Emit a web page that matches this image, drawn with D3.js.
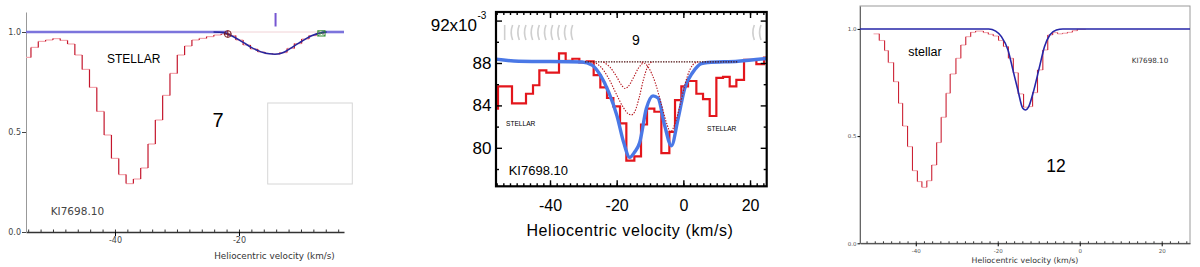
<!DOCTYPE html>
<html lang="en">
<head>
<meta charset="UTF-8">
<title>KI 7698 absorption profiles</title>
<script src="https://cdnjs.cloudflare.com/ajax/libs/d3/7.8.5/d3.min.js"></script>
<style>
  body { margin: 0; background: #fff; }
  svg { display: block; }
  text { font-family: "DejaVu Sans", sans-serif; }
  .helv text, text.helv { font-family: "Liberation Sans", Arial, sans-serif; }
</style>
</head>
<body>
<svg width="1200" height="267"></svg>
<script>
// ---- panel 1 (component 7): observed spectrum, bins start at these velocities ----
const p1Edges = [-54.35, -53.55, -52.37, -51.19, -50.01, -48.83, -47.65, -46.47, -45.29, -44.11,
  -42.93, -41.75, -40.57, -39.39, -38.21, -37.03, -35.85, -34.67, -33.49, -32.31, -31.13, -29.95,
  -28.77, -27.59, -26.41, -25.23, -24.05, -22.87, -21.69, -20.51, -19.33, -18.15, -16.97, -15.79,
  -14.61, -13.43, -12.25, -11.07, -9.89, -8.71, -7.53, -6.35, -5.17, -3.99];
const p1Flux = [0.873, 0.923, 0.953, 0.960, 0.967, 0.958, 0.940, 0.885, 0.813, 0.723, 0.603, 0.485,
  0.368, 0.287, 0.242, 0.265, 0.320, 0.440, 0.560, 0.683, 0.793, 0.885, 0.930, 0.960, 0.968, 0.977,
  0.985, 0.990, 0.982, 0.960, 0.935, 0.915, 0.900, 0.892, 0.889, 0.897, 0.918, 0.942, 0.965, 0.982,
  0.993, 0.998, 1.0, 1.0];
const p1End = -3.06;
// fitted interstellar profile
const p1FitV = [-24.1, -22.5, -21.8, -20.8, -19.8, -18.9, -17.95, -17, -16.1, -15.1, -14.2, -13.5,
  -12.85, -12, -11, -10, -9.1, -8.2, -7.2, -6.5, -5.85];
const p1FitF = [1.0, 0.997, 0.99, 0.975, 0.957, 0.94, 0.922, 0.908, 0.897, 0.891, 0.889, 0.891,
  0.897, 0.912, 0.932, 0.951, 0.968, 0.982, 0.993, 0.997, 1.0];
const p1Limits = [-21.8, -6.7];   // fit window markers
const p1Cloud = [-14.1];          // component position

// ---- panel 2 (component 9) ----
const p2Edges = [-56.2, -55.6, -51.4, -47.2, -45.1, -43.2, -41.1, -37.3, -35.3, -33.3, -31.2, -29.0,
  -26.9, -24.9, -22.9, -21.0, -19.0, -17.1, -14.7, -12.7, -10.9, -8.7, -6.6, -4.2, -2.5, -0.6, 1.4,
  3.9, 5.9, 7.9, 9.9, 11.9, 13.9, 15.9, 18.2, 21.9, 24.2];
const p2Flux = [83.7, 85.8, 84.2, 85.1, 85.9, 87.3, 87.1, 88.9, 88.2, 88.4, 88.05, 88.15, 86.85, 85.7,
  84.7, 83.9, 82.3, 78.8, 79.2, 82.2, 83.7, 83.4, 79.5, 81.5, 84.5, 85.8, 86.3, 85.1, 84.6, 83.0, 86.6,
  86.7, 85.8, 86.4, 88.3, 87.9, 88.5];
const p2End = 25;
const p2FitV = [-56.2, -49.4, -30.4, -27.4, -24.9, -22.4, -19.9, -17.9, -16.1, -14.6, -13.1, -11.1,
  -9.1, -7.6, -5.6, -3.6, -1.6, 0.4, 2.9, 5.4, 7.4, 16.4, 25];
const p2FitF = [88.36, 88.17, 88.1, 87.8, 86.85, 85.25, 83.0, 80.5, 79.1, 79.6, 80.5, 83.7,
  84.9, 84.7, 82.1, 80.2, 82.7, 85.6, 87.15, 87.95, 88.05, 88.17, 88.43];
const p2ContV = [-29.5, 16.5];
const p2ContF = [88.1, 88.1];
const p2CompAV = [-27, -25, -22.5, -20, -18, -16.5, -15.6, -14.6, -13.2, -12, -10.8, -9.5];
const p2CompAF = [88.1, 87.7, 86.6, 85.0, 83.8, 83.2, 83.1, 83.4, 84.8, 86.4, 87.6, 88.1];
const p2CompBV = [-24, -22, -20, -18.5, -17.5, -16.5, -15, -13.5, -12];
const p2CompBF = [88.1, 87.6, 86.7, 85.9, 85.6, 85.8, 86.6, 87.5, 88.05];
const p2CompCV = [-12.5, -10.5, -8.5, -6.5, -5, -3.8, -2.6, -1, 0.5, 2, 3.5, 4.5];
const p2CompCF = [88.1, 87.6, 86.2, 84.0, 82.3, 81.5, 82.2, 84.0, 86.0, 87.4, 88.0, 88.1];
const p2Marks = [-53.6, -51.6, -49.6, -47.6, -45.6, -43.6, -41.6, -39.6, -37.6, -35.6, -33.6, 20.9, 22.9];

// ---- panel 3 (component 12) ----
const p3Edges = [-50.3, -48.9, -47.6, -46.7, -45.4, -44.2, -43.2, -42.0, -40.8, -39.6, -38.5, -37.3,
  -36.1, -34.9, -33.8, -32.6, -31.6, -30.2, -29.0, -27.8, -26.6, -25.4, -23.5, -22.3, -21.1, -19.8,
  -18.6, -17.4, -16.2, -15.0, -13.7, -12.5, -11.5, -10.3, -9.0, -7.8, -6.6, -5.4, -4.2, -3.0, -1.8, -0.6];
const p3Flux = [0.977, 0.946, 0.899, 0.843, 0.754, 0.653, 0.547, 0.451, 0.339, 0.288, 0.261, 0.292,
  0.365, 0.470, 0.588, 0.700, 0.790, 0.863, 0.925, 0.964, 0.984, 0.990, 0.983, 0.975, 0.967, 0.946,
  0.918, 0.863, 0.796, 0.697, 0.635, 0.638, 0.703, 0.809, 0.902, 0.972, 0.983, 0.977, 0.980, 0.984,
  0.992, 0.998];
const p3End = 1.5;
const p3FitV = [-53.6, -22.2, -20.5, -19.1, -17.5, -16.3, -15.1, -13.9, -13.2, -12.5, -11.4, -9.8,
  -8.6, -7.3, -5.7, -4.1, 26.9];
const p3FitF = [1.0, 1.0, 0.99, 0.964, 0.902, 0.809, 0.716, 0.63, 0.622, 0.635, 0.70, 0.824,
  0.917, 0.972, 0.995, 1.0, 1.0];

const svg = d3.select("svg");

// pink flats with darker red risers, like the original plotting tool
function twoToneSteps(g, x, y, edges, flux, end, flat, riser, w) {
  const segs = edges.map((e, i) => ({a: e, b: i < edges.length - 1 ? edges[i + 1] : end, f: flux[i], n: flux[i + 1]}));
  g.selectAll(null).data(segs).join("line")
    .attr("x1", d => x(d.a)).attr("x2", d => x(d.b))
    .attr("y1", d => y(d.f)).attr("y2", d => y(d.f))
    .attr("stroke", flat).attr("stroke-width", w);
  g.selectAll(null).data(segs.slice(0, -1)).join("line")
    .attr("x1", d => x(d.b)).attr("x2", d => x(d.b))
    .attr("y1", d => y(d.f)).attr("y2", d => y(d.n))
    .attr("stroke", riser).attr("stroke-width", w);
}
const zip = (a, b) => a.map((v, i) => [v, b[i]]);

// ================= panel 1 =================
const x1 = d3.scaleLinear().domain([-54.35, -3.06]).range([26, 344]);
const y1 = d3.scaleLinear().domain([0, 1.1]).range([232, 12]);
const g1 = svg.append("g");

g1.append("rect").attr("x", 267.7).attr("y", 103).attr("width", 84.6).attr("height", 81)
  .attr("fill", "none").attr("stroke", "#d6d6d6");

const ax1 = g1.append("g").attr("transform", "translate(0,232)")
  .call(d3.axisBottom(x1).tickValues(d3.range(-54, -3, 2)).tickSize(-2.5).tickSizeOuter(0).tickFormat(""));
ax1.select(".domain").attr("stroke", "#333").attr("stroke-width", 1.6);
ax1.selectAll(".tick line").attr("stroke", "#333");
const ax1m = g1.append("g").attr("transform", "translate(0,232)")
  .call(d3.axisBottom(x1).tickValues([-40, -20]).tickSize(4).tickPadding(1.5).tickFormat(d => d));
ax1m.select(".domain").remove();
ax1m.selectAll("text").attr("font-size", 8).attr("fill", "#444").attr("font-family", "DejaVu Sans");
const ay1 = g1.append("g").attr("transform", "translate(26,0)")
  .call(d3.axisLeft(y1).tickValues([0, 0.5, 1]).tickSize(4).tickSizeOuter(0).tickPadding(1).tickFormat(d3.format(".1f")));
ay1.select(".domain").attr("stroke", "#999");
ay1.selectAll(".tick line").attr("stroke", "#444");
ay1.selectAll("text").attr("font-size", 8).attr("fill", "#444").attr("font-family", "DejaVu Sans");

twoToneSteps(g1, x1, y1, p1Edges, p1Flux, p1End, "#f4a6ae", "#c4162c", 1.2);

// continuum outside the fit window, faint line inside it
g1.append("line").attr("x1", x1(x1.domain()[0])).attr("x2", x1(p1Limits[0]))
  .attr("y1", y1(1)).attr("y2", y1(1)).attr("stroke", "#7c74dc").attr("stroke-width", 2.6);
g1.append("line").attr("x1", x1(p1Limits[1])).attr("x2", x1(p1End))
  .attr("y1", y1(1)).attr("y2", y1(1)).attr("stroke", "#7c74dc").attr("stroke-width", 2.6);
g1.append("line").attr("x1", x1(p1Limits[0])).attr("x2", x1(p1Limits[1]))
  .attr("y1", y1(1)).attr("y2", y1(1)).attr("stroke", "#f1d2d6").attr("stroke-width", 1);
g1.append("path").datum(zip(p1FitV, p1FitF))
  .attr("d", d3.line().x(d => x1(d[0])).y(d => y1(d[1])).curve(d3.curveMonotoneX))
  .attr("fill", "none").attr("stroke", "#26269e").attr("stroke-width", 1.6);

// fit window markers
const cx = x1(p1Limits[0]), cy = y1(0.99);
g1.append("circle").attr("cx", cx).attr("cy", cy).attr("r", 3.4).attr("fill", "none").attr("stroke", "#7a1820");
g1.append("path").attr("d", `M${cx - 3.4},${cy}H${cx + 3.4}M${cx},${cy - 3.4}V${cy + 3.4}`).attr("stroke", "#7a1820");
const sx = x1(p1Limits[1]), sy = y1(0.993);
g1.append("rect").attr("x", sx - 3.6).attr("y", sy - 2.6).attr("width", 7.2).attr("height", 5.2)
  .attr("fill", "none").attr("stroke", "#2f8a2f");
g1.append("path").attr("d", `M${sx - 3.6},${sy - 2.6}L${sx + 3.6},${sy + 2.6}M${sx - 3.6},${sy + 2.6}L${sx + 3.6},${sy - 2.6}`)
  .attr("stroke", "#2f8a2f").attr("stroke-width", 0.7);
g1.selectAll(null).data(p1Cloud).join("line")
  .attr("x1", d => x1(d)).attr("x2", d => x1(d)).attr("y1", 13).attr("y2", 26.5)
  .attr("stroke", "#7656d2").attr("stroke-width", 2);

g1.append("text").attr("class", "helv").attr("x", 133.7).attr("y", 63).attr("text-anchor", "middle")
  .attr("font-size", 12).text("STELLAR");
g1.append("text").attr("class", "helv").attr("x", 218).attr("y", 126.7).attr("text-anchor", "middle")
  .attr("font-size", 20).text("7");
g1.append("text").attr("x", 50.7).attr("y", 215).attr("font-size", 10.5).attr("fill", "#444").text("KI7698.10");
g1.append("text").attr("x", 274.5).attr("y", 258.5).attr("text-anchor", "middle")
  .attr("font-size", 8.8).attr("fill", "#333").text("Heliocentric velocity (km/s)");

// ================= panel 2 =================
const x2 = d3.scaleLinear().domain([-56.2, 25]).range([496, 766.7]);
const y2 = d3.scaleLinear().domain([76.37, 92.81]).range([186.3, 12]);
const g2 = svg.append("g").attr("class", "helv");

g2.selectAll(null).data(p2Marks).join("path")
  .attr("d", (d, i) => {
    const xm = x2(d);
    return i === 0 ? `M${xm},25V40` : `M${xm + 1.3},25Q${xm - 1.6},32.5 ${xm + 1.3},40`;
  })
  .attr("fill", "none").attr("stroke", "#cfcfcf").attr("stroke-width", 1.6);

g2.append("path").datum(zip(p2Edges, p2Flux).concat([[p2End, p2Flux[p2Flux.length - 1]]]))
  .attr("d", d3.line().x(d => x2(d[0])).y(d => y2(d[1])).curve(d3.curveStepAfter))
  .attr("fill", "none").attr("stroke", "#e3161c").attr("stroke-width", 2.2);
g2.append("path").datum(zip(p2FitV, p2FitF))
  .attr("d", d3.line().x(d => x2(d[0])).y(d => y2(d[1])).curve(d3.curveMonotoneX))
  .attr("fill", "none").attr("stroke", "#4a78e6").attr("stroke-width", 3.4);
const dotted = d3.line().x(d => x2(d[0])).y(d => y2(d[1])).curve(d3.curveMonotoneX);
g2.append("path").datum(zip(p2ContV, p2ContF)).attr("d", dotted)
  .attr("fill", "none").attr("stroke", "#4a0c0c").attr("stroke-width", 1.3).attr("stroke-dasharray", "1.4,1.2");
[[p2CompAV, p2CompAF], [p2CompBV, p2CompBF], [p2CompCV, p2CompCF]].forEach(c => {
  g2.append("path").datum(zip(c[0], c[1])).attr("d", dotted)
    .attr("fill", "none").attr("stroke", "#b5141c").attr("stroke-width", 1.1).attr("stroke-dasharray", "1.4,1.4");
});

function frameAxes(sel) {
  sel.select(".domain").remove();
  sel.selectAll(".tick line").attr("stroke", "#000").attr("stroke-width", 1.4);
}
g2.append("g").attr("transform", "translate(0,186.3)")
  .call(d3.axisBottom(x2).tickValues(d3.range(-56, 25, 2)).tickSize(-3).tickFormat("")).call(frameAxes);
g2.append("g").attr("transform", "translate(0,12)")
  .call(d3.axisTop(x2).tickValues(d3.range(-56, 25, 2)).tickSize(-3).tickFormat("")).call(frameAxes);
const bx2 = g2.append("g").attr("transform", "translate(0,186.3)")
  .call(d3.axisBottom(x2).tickValues([-40, -20, 0, 20]).tickSize(-6).tickPadding(13).tickFormat(d => d)).call(frameAxes);
bx2.selectAll("text").attr("font-size", 16).attr("fill", "#000").attr("font-family", "Liberation Sans, Arial");
g2.append("g").attr("transform", "translate(0,12)")
  .call(d3.axisTop(x2).tickValues([-40, -20, 0, 20]).tickSize(-6).tickFormat("")).call(frameAxes);
g2.append("g").attr("transform", "translate(496,0)")
  .call(d3.axisLeft(y2).tickValues([78, 82, 86, 90]).tickSize(-3).tickFormat("")).call(frameAxes);
g2.append("g").attr("transform", "translate(766.7,0)")
  .call(d3.axisRight(y2).tickValues([78, 82, 86, 90]).tickSize(-3).tickFormat("")).call(frameAxes);
const ly2 = g2.append("g").attr("transform", "translate(496,0)")
  .call(d3.axisLeft(y2).tickValues([80, 84, 88, 92]).tickSize(-6).tickPadding(4.5).tickFormat(d => d === 92 ? "" : d)).call(frameAxes);
ly2.selectAll("text").attr("font-size", 17).attr("fill", "#000").attr("font-family", "Liberation Sans, Arial");
g2.append("g").attr("transform", "translate(766.7,0)")
  .call(d3.axisRight(y2).tickValues([80, 84, 88, 92]).tickSize(-6).tickFormat("")).call(frameAxes);
g2.append("rect").attr("x", 496).attr("y", 12).attr("width", 270.7).attr("height", 174.3)
  .attr("fill", "none").attr("stroke", "#000").attr("stroke-width", 2.2);

const t92 = g2.append("text").attr("x", 477).attr("y", 31).attr("text-anchor", "end").attr("font-size", 17);
t92.append("tspan").text("92x10");
g2.append("text").attr("x", 477.5).attr("y", 18.5).attr("font-size", 10).text("-3");
g2.append("text").attr("x", 636).attr("y", 45).attr("text-anchor", "middle").attr("font-size", 14).text("9");
g2.append("text").attr("x", 506).attr("y", 125.5).attr("font-size", 6.6).attr("font-family", "DejaVu Sans").text("STELLAR");
g2.append("text").attr("x", 707).attr("y", 131).attr("font-size", 6.6).attr("font-family", "DejaVu Sans").text("STELLAR");
g2.append("text").attr("x", 508.7).attr("y", 174.5).attr("font-size", 13).text("KI7698.10");
g2.append("text").attr("x", 630).attr("y", 236).attr("text-anchor", "middle").attr("font-size", 16)
  .attr("letter-spacing", 0.6).text("Heliocentric velocity (km/s)");

// ================= panel 3 =================
const x3 = d3.scaleLinear().domain([-53.6, 26.9]).range([860, 1190]);
const y3 = d3.scaleLinear().domain([0, 1.107]).range([243.3, 6]);
const g3 = svg.append("g");

g3.append("rect").attr("x", 860).attr("y", 6).attr("width", 330).attr("height", 237.3)
  .attr("fill", "none").attr("stroke", "#9a9a9a");
const ax3 = g3.append("g").attr("transform", "translate(0,243.3)")
  .call(d3.axisBottom(x3).tickValues(d3.range(-52, 27, 2)).tickSize(-2).tickSizeOuter(0).tickFormat(""));
ax3.select(".domain").attr("stroke", "#333");
ax3.selectAll(".tick line").attr("stroke", "#333");
const ax3m = g3.append("g").attr("transform", "translate(0,243.3)")
  .call(d3.axisBottom(x3).tickValues([-40, -20, 0, 20]).tickSize(3).tickPadding(2.5).tickFormat(d => d));
ax3m.select(".domain").remove();
ax3m.selectAll("text").attr("font-size", 5.5).attr("fill", "#555").attr("font-family", "DejaVu Sans");
const ay3 = g3.append("g").attr("transform", "translate(860,0)")
  .call(d3.axisLeft(y3).tickValues([0, 0.5, 1]).tickSize(2.5).tickSizeOuter(0).tickPadding(1).tickFormat(d3.format(".1f")));
ay3.select(".domain").attr("stroke", "#666");
ay3.selectAll("text").attr("font-size", 5.5).attr("fill", "#555").attr("font-family", "DejaVu Sans");

twoToneSteps(g3, x3, y3, p3Edges, p3Flux, p3End, "#f2a8b0", "#cc2234", 1.1);
g3.append("path").datum(zip(p3FitV, p3FitF))
  .attr("d", d3.line().x(d => x3(d[0])).y(d => y3(d[1])).curve(d3.curveMonotoneX))
  .attr("fill", "none").attr("stroke", "#2626a8").attr("stroke-width", 1.6);

g3.append("text").attr("class", "helv").attr("x", 908.3).attr("y", 56).attr("font-size", 12.5).text("stellar");
g3.append("text").attr("x", 1131.7).attr("y", 63.3).attr("font-size", 7.2).attr("fill", "#333").text("KI7698.10");
g3.append("text").attr("class", "helv").attr("x", 1056).attr("y", 171.7).attr("text-anchor", "middle")
  .attr("font-size", 17.5).text("12");
g3.append("text").attr("x", 1025).attr("y", 262.5).attr("text-anchor", "middle")
  .attr("font-size", 7.8).attr("fill", "#333").text("Heliocentric velocity (km/s)");
</script>
</body>
</html>
